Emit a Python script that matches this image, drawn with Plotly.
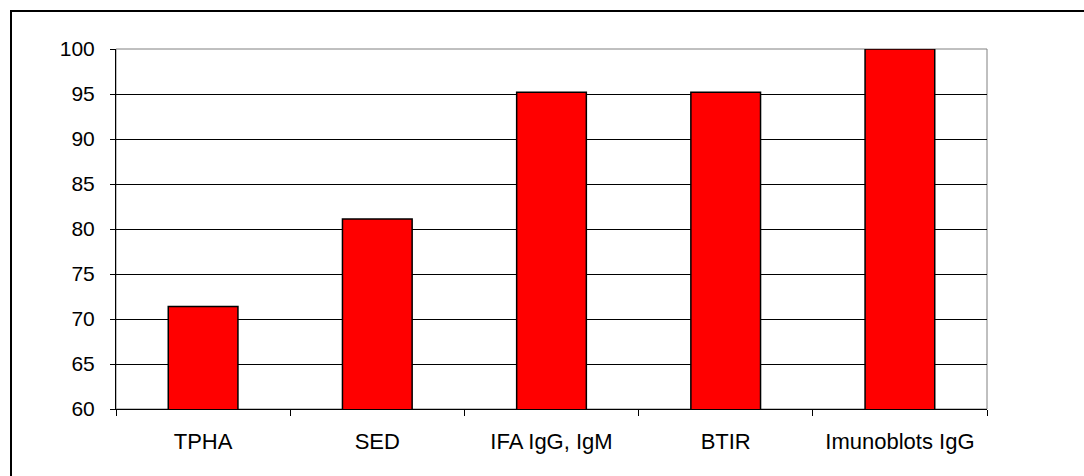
import plotly.graph_objects as go

# Test names and their percentage values
tests = ["TPHA", "SED", "IFA IgG, IgM", "BTIR", "Imunoblots IgG"]
values = [71.4, 81.1, 95.2, 95.2, 100.0]

# y-axis ticks
y_ticks = [60, 65, 70, 75, 80, 85, 90, 95, 100]

W, H = 1084, 476
ML, MR, MT, MB = 116, 97, 49, 67
PW, PH = W - ML - MR, H - MT - MB

fig = go.Figure(
    go.Bar(
        x=tests,
        y=values,
        base=0,
        marker=dict(color="#FF0000", line=dict(color="#000000", width=1.5)),
        hoverinfo="x+y",
    )
)


def px_x(p):
    return (p - ML) / PW


def px_y(p):
    return 1 - (p - MT) / PH


fig.update_layout(
    width=W,
    height=H,
    margin=dict(l=ML, r=MR, t=MT, b=MB),
    paper_bgcolor="white",
    plot_bgcolor="white",
    bargap=0.6,
    showlegend=False,
    font=dict(family="Liberation Sans, Arial, sans-serif", size=21, color="#000000"),
    shapes=[
        # plot-area border
        dict(type="rect", xref="paper", yref="paper", x0=0, y0=0, x1=1, y1=1,
             line=dict(color="#808080", width=1), layer="below"),
        # outer chart frame
        dict(type="rect", xref="paper", yref="paper",
             x0=px_x(11), y0=px_y(H + 20), x1=px_x(W + 20), y1=px_y(11),
             line=dict(color="#000000", width=2)),
    ],
)

fig.update_xaxes(
    type="category",
    showline=True,
    linecolor="#000000",
    linewidth=1,
    ticks="outside",
    tickson="boundaries",
    ticklen=6,
    tickcolor="#000000",
    tickfont=dict(size=22),
    ticklabelstandoff=13,
    showgrid=False,
)

fig.update_yaxes(
    range=[60, 100],
    tickvals=y_ticks,
    showline=True,
    linecolor="#000000",
    linewidth=1,
    ticks="outside",
    ticklen=5,
    tickcolor="#000000",
    ticklabelstandoff=11,
    showgrid=True,
    gridcolor="#000000",
    gridwidth=1,
    zeroline=False,
)

fig.write_html("out.html")
